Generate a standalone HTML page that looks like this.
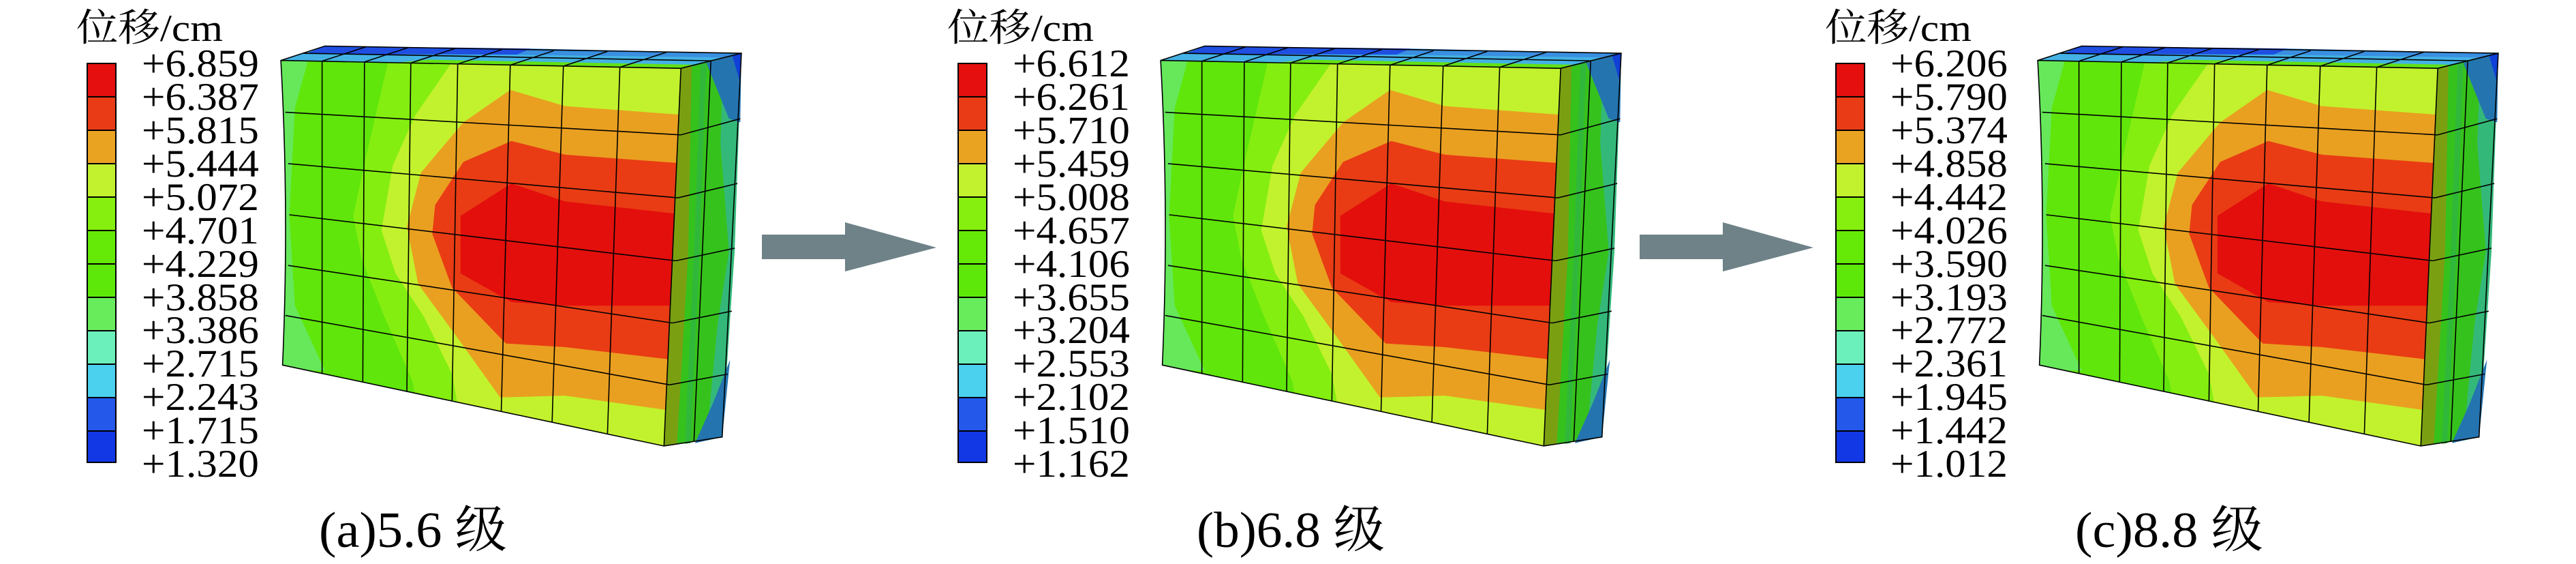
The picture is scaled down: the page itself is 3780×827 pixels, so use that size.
<!DOCTYPE html>
<html><head><meta charset="utf-8"><style>
html,body{margin:0;padding:0;background:#fff;}
svg{display:block;}
text{font-family:"Liberation Serif","Noto Serif CJK SC",serif;fill:#000;}
</style></head><body>
<svg width="3780" height="827" viewBox="0 0 3780 827" xmlns="http://www.w3.org/2000/svg">
<defs>
<clipPath id="fc"><path d="M497,168 L1205,190 L1175,1240 L500,1015 Q512,590 497,168 Z"/></clipPath>
<g id="box">
  <g clip-path="url(#fc)">
    <rect x="450" y="100" width="900" height="1200" fill="#60e60a"/>
    <polygon points="497,168 545,168 522,300 512,600 522,850 575,1030 490,1030" fill="#66e85a"/>
    <polygon points="690,150 1300,150 1300,1300 760,1300 730,1060 680,880 640,720 625,600 650,420" fill="#84ee10"/>
    <polygon points="810,150 1300,150 1300,1300 830,1300 800,1040 750,880 700,760 675,640 695,460 735,320" fill="#c2f22d"/>
    <polygon points="903,250 1000,295 1300,330 1300,1145 1180,1140 1000,1100 885,1105 810,940 740,790 720,630 745,480 820,340" fill="#e9a020"/>
    <polygon points="905,392 1000,430 1300,465 1300,1000 1190,1000 1000,965 895,955 800,800 765,650 770,570 820,450" fill="#e93c14"/>
    <polygon points="905,510 1000,560 1300,612 1300,850 1200,850 1000,850 905,840 815,760 815,600" fill="#e30f0c"/>
    <polygon points="1200,380 1215,380 1212,700 1198,1080 1188,1080 1198,700" fill="#8a1a08"/>
  </g>
  <polygon points="497,168 575,128 1312,148 1205,190" fill="#44b2e4"/>
  <polygon points="575,128 940,135 915,152 540,150" fill="#1f4ee0"/>
  <polygon points="940,135 1312,148 1290,160 915,152" fill="#3a8fe0"/>
  <polygon points="700,174 1205,190 1228,180 760,166" fill="#62e014"/>
  <polygon points="1205,190 1312,148 1278,1215 1175,1240" fill="#36c21c"/>
  <polygon points="1205,190 1224,184 1218,700 1198,1236 1175,1240" fill="#7aa012"/>
  <polygon points="1240,178 1250,175 1238,700 1222,1232 1212,1234 1228,700" fill="#30b83a"/>
  <polygon points="1280,160 1312,148 1300,700 1278,1215 1250,1225 1270,900 1290,700 1275,400" fill="#34b87a"/>
  <polygon points="1250,175 1312,148 1310,340 1290,330" fill="#2474b0"/>
  <polygon points="1296,155 1312,148 1310,230" fill="#1040d8"/>
  <polygon points="1230,1232 1278,1215 1292,1000 1262,1120" fill="#2474b0"/>
  <g fill="none" stroke="#000" stroke-width="1.6">
    <path vector-effect="non-scaling-stroke" d="M570,170 L570,1038 M645,172 L642,1062 M727,175 L720,1088 M810,178 L800,1115 M903,181 L887,1145 M997,184 L977,1175 M1097,187 L1075,1207"/>
    <path vector-effect="non-scaling-stroke" d="M505,312 L1205,375 M510,455 L1200,550 M512,597 L1196,725 M510,738 L1190,898 M505,877 L1185,1070"/>
    <path vector-effect="non-scaling-stroke" d="M1205,375 L1310,330 M1200,550 L1305,510 M1196,725 L1300,690 M1190,898 L1295,865 M1185,1070 L1288,1040 M1258,169 L1228,1228"/>
    <path vector-effect="non-scaling-stroke" d="M536,148 L1258,169 M570,170 L648,130 M645,172 L723,132 M727,175 L805,135 M810,178 L888,138 M903,181 L980,141 M997,184 L1075,143 M1097,187 L1180,145"/>
    <path vector-effect="non-scaling-stroke" d="M497,168 L575,128 L1312,148 L1278,1215 L1175,1240 L500,1015 Q512,590 497,168 Z M1205,190 L1312,148 M1205,190 L1175,1240 M497,168 L1205,190"/>
  </g>
</g>
<g id="leg">
  <rect x="127" y="92" width="44" height="587" fill="#000"/>
  <rect x="129" y="94" width="40" height="47" fill="#e50f0f"/>
  <rect x="129" y="143" width="40" height="47" fill="#e93c16"/>
  <rect x="129" y="192" width="40" height="47" fill="#eaa221"/>
  <rect x="129" y="241" width="40" height="47" fill="#c2f22e"/>
  <rect x="129" y="290" width="40" height="47" fill="#86ef0f"/>
  <rect x="129" y="339" width="40" height="47" fill="#64ea06"/>
  <rect x="129" y="388" width="40" height="47" fill="#5de80a"/>
  <rect x="129" y="437" width="40" height="47" fill="#68ec5c"/>
  <rect x="129" y="486" width="40" height="47" fill="#6cf0bb"/>
  <rect x="129" y="535" width="40" height="47" fill="#4bd0ee"/>
  <rect x="129" y="584" width="40" height="47" fill="#2458ea"/>
  <rect x="129" y="633" width="40" height="44" fill="#1138e4"/>
</g>
</defs>

<use href="#leg"/>
<g transform="scale(0.8292,0.5274)"><use href="#box"/></g>
<text x="112" y="60" font-size="56" textLength="215" lengthAdjust="spacingAndGlyphs">位移/cm</text>
<g font-size="57">
<text x="208" y="112" textLength="172" lengthAdjust="spacingAndGlyphs">+6.859</text>
<text x="208" y="161" textLength="172" lengthAdjust="spacingAndGlyphs">+6.387</text>
<text x="208" y="210" textLength="172" lengthAdjust="spacingAndGlyphs">+5.815</text>
<text x="208" y="259" textLength="172" lengthAdjust="spacingAndGlyphs">+5.444</text>
<text x="208" y="308" textLength="172" lengthAdjust="spacingAndGlyphs">+5.072</text>
<text x="208" y="357" textLength="172" lengthAdjust="spacingAndGlyphs">+4.701</text>
<text x="208" y="406" textLength="172" lengthAdjust="spacingAndGlyphs">+4.229</text>
<text x="208" y="455" textLength="172" lengthAdjust="spacingAndGlyphs">+3.858</text>
<text x="208" y="503" textLength="172" lengthAdjust="spacingAndGlyphs">+3.386</text>
<text x="208" y="552" textLength="172" lengthAdjust="spacingAndGlyphs">+2.715</text>
<text x="208" y="601" textLength="172" lengthAdjust="spacingAndGlyphs">+2.243</text>
<text x="208" y="650" textLength="172" lengthAdjust="spacingAndGlyphs">+1.715</text>
<text x="208" y="699" textLength="172" lengthAdjust="spacingAndGlyphs">+1.320</text>
</g>
<text x="468" y="802" font-size="74" textLength="276" lengthAdjust="spacingAndGlyphs">(a)5.6 级</text>

<polygon points="1118,344 1240,344 1240,326 1374,363 1240,398 1240,380 1118,380" fill="#6e8288"/>

<g transform="translate(1278,0)"><use href="#leg"/>
<text x="112" y="60" font-size="56" textLength="215" lengthAdjust="spacingAndGlyphs">位移/cm</text>
<g font-size="57">
<text x="208" y="112" textLength="172" lengthAdjust="spacingAndGlyphs">+6.612</text>
<text x="208" y="161" textLength="172" lengthAdjust="spacingAndGlyphs">+6.261</text>
<text x="208" y="210" textLength="172" lengthAdjust="spacingAndGlyphs">+5.710</text>
<text x="208" y="259" textLength="172" lengthAdjust="spacingAndGlyphs">+5.459</text>
<text x="208" y="308" textLength="172" lengthAdjust="spacingAndGlyphs">+5.008</text>
<text x="208" y="357" textLength="172" lengthAdjust="spacingAndGlyphs">+4.657</text>
<text x="208" y="406" textLength="172" lengthAdjust="spacingAndGlyphs">+4.106</text>
<text x="208" y="455" textLength="172" lengthAdjust="spacingAndGlyphs">+3.655</text>
<text x="208" y="503" textLength="172" lengthAdjust="spacingAndGlyphs">+3.204</text>
<text x="208" y="552" textLength="172" lengthAdjust="spacingAndGlyphs">+2.553</text>
<text x="208" y="601" textLength="172" lengthAdjust="spacingAndGlyphs">+2.102</text>
<text x="208" y="650" textLength="172" lengthAdjust="spacingAndGlyphs">+1.510</text>
<text x="208" y="699" textLength="172" lengthAdjust="spacingAndGlyphs">+1.162</text>
</g></g>
<g transform="translate(1291,0) scale(0.8292,0.5274)"><use href="#box"/></g>
<text x="1756" y="802" font-size="74" textLength="276" lengthAdjust="spacingAndGlyphs">(b)6.8 级</text>

<polygon points="2406,344 2528,344 2528,326 2661,363 2528,398 2528,380 2406,380" fill="#6e8288"/>

<g transform="translate(2566,0)"><use href="#leg"/>
<text x="112" y="60" font-size="56" textLength="215" lengthAdjust="spacingAndGlyphs">位移/cm</text>
<g font-size="57">
<text x="208" y="112" textLength="172" lengthAdjust="spacingAndGlyphs">+6.206</text>
<text x="208" y="161" textLength="172" lengthAdjust="spacingAndGlyphs">+5.790</text>
<text x="208" y="210" textLength="172" lengthAdjust="spacingAndGlyphs">+5.374</text>
<text x="208" y="259" textLength="172" lengthAdjust="spacingAndGlyphs">+4.858</text>
<text x="208" y="308" textLength="172" lengthAdjust="spacingAndGlyphs">+4.442</text>
<text x="208" y="357" textLength="172" lengthAdjust="spacingAndGlyphs">+4.026</text>
<text x="208" y="406" textLength="172" lengthAdjust="spacingAndGlyphs">+3.590</text>
<text x="208" y="455" textLength="172" lengthAdjust="spacingAndGlyphs">+3.193</text>
<text x="208" y="503" textLength="172" lengthAdjust="spacingAndGlyphs">+2.772</text>
<text x="208" y="552" textLength="172" lengthAdjust="spacingAndGlyphs">+2.361</text>
<text x="208" y="601" textLength="172" lengthAdjust="spacingAndGlyphs">+1.945</text>
<text x="208" y="650" textLength="172" lengthAdjust="spacingAndGlyphs">+1.442</text>
<text x="208" y="699" textLength="172" lengthAdjust="spacingAndGlyphs">+1.012</text>
</g></g>
<g transform="translate(2578,0) scale(0.8292,0.5274)"><use href="#box"/></g>
<text x="3045" y="802" font-size="74" textLength="276" lengthAdjust="spacingAndGlyphs">(c)8.8 级</text>
</svg>
</body></html>
